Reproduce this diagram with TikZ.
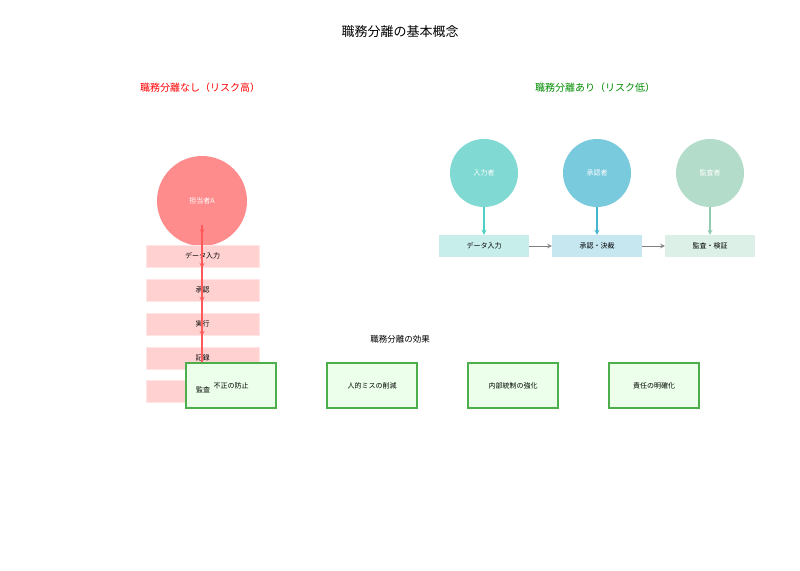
\documentclass[tikz,border=0pt]{standalone}
\usepackage{fontspec}
\setmainfont{Noto Sans CJK JP}
\begin{document}
\begin{tikzpicture}[x=1pt,y=-1pt,
 lbox/.style={fill=red!18,draw=red!10,minimum width=113pt,minimum height=22pt,inner sep=0pt,font=\fontsize{7}{8}\selectfont},
 rbox/.style={minimum width=90pt,minimum height=22pt,inner sep=0pt,font=\fontsize{7}{8}\selectfont},
 ebox/.style={fill=green!8,draw=green!55!black!70,line width=1.2pt,minimum width=90pt,minimum height=45pt,inner sep=0pt,font=\fontsize{7}{8}\selectfont},
 circ/.style={circle,inner sep=0pt,text=white,font=\fontsize{7}{8}\selectfont},
 rarr/.style={draw=red!65,line width=1.2pt,-stealth},
 garr/.style={draw=gray,line width=1pt,-stealth}]
\useasboundingbox (0,0) rectangle (800,570);
\node (title) at (400,32) {\fontsize{13}{15}\selectfont 職務分離の基本概念};
\node[text=red] (hl) at (200,88) {\fontsize{10}{12}\selectfont 職務分離なし（リスク高）};
\node[text=green!55!black] (hr) at (595,88) {\fontsize{10}{12}\selectfont 職務分離あり（リスク低）};
% left
\node[circ,fill=red!45,minimum size=90pt] (a) at (202,201) {担当者A};
\node[lbox] (l1) at (202.5,256) {データ入力};
\node[lbox] (l2) at (202.5,290) {承認};
\node[lbox] (l3) at (202.5,324) {実行};
\node[lbox] (l4) at (202.5,358) {記録};
\node[lbox] (l5) at (202.5,391) {};
\coordinate (c0) at (202,225);
\foreach \y/\n in {234/1,268/2,302/3,336/4,371/5}{\coordinate (t\n) at (202,\y); \draw[rarr] (c0) -- (t\n);}
% effects
\node (et) at (400,339) {\fontsize{8.5}{10}\selectfont 職務分離の効果};
\node[ebox] (e1) at (231,385.5) {不正の防止};
\node[font=\fontsize{7}{8}\selectfont] (kansa) at (203,390) {監査};
\node[ebox] (e2) at (372,385.5) {人的ミスの削減};
\node[ebox] (e3) at (513,385.5) {内部統制の強化};
\node[ebox] (e4) at (654,385.5) {責任の明確化};
% right
\definecolor{c1}{HTML}{80D9D2}\definecolor{c2}{HTML}{7ACADD}\definecolor{c3}{HTML}{B3DCCA}
\definecolor{b1}{HTML}{C8EEEC}\definecolor{b2}{HTML}{C6E7F0}\definecolor{b3}{HTML}{DDF0E7}
\definecolor{a1}{HTML}{4FCFC6}\definecolor{a2}{HTML}{45B5CF}\definecolor{a3}{HTML}{8FCBB0}
\node[circ,fill=c1,minimum size=68pt] (p1) at (484,173) {入力者};
\node[circ,fill=c2,minimum size=68pt] (p2) at (597,173) {承認者};
\node[circ,fill=c3,minimum size=68pt] (p3) at (710,173) {監査者};
\node[rbox,fill=b1] (r1) at (484,246) {データ入力};
\node[rbox,fill=b2] (r2) at (597,246) {承認・決裁};
\node[rbox,fill=b3] (r3) at (710,246) {監査・検証};
\draw[a1,line width=1.2pt,-stealth] (p1) -- (r1);
\draw[a2,line width=1.2pt,-stealth] (p2) -- (r2);
\draw[a3,line width=1.2pt,-stealth] (p3) -- (r3);
\draw[garr] (r1) -- (r2);
\draw[garr] (r2) -- (r3);
\end{tikzpicture}
\end{document}
